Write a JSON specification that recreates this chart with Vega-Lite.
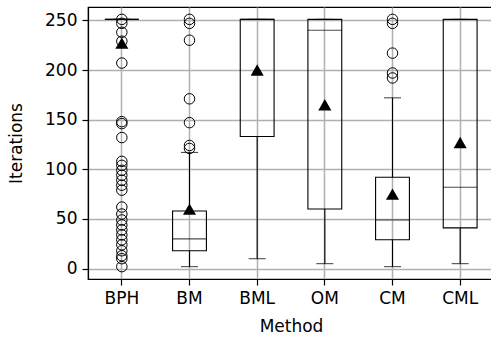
{
  "$schema": "https://vega.github.io/schema/vega-lite/v6.json",
  "width": 404,
  "height": 272,
  "autosize": "none",
  "padding": {"left": 88, "top": 7, "right": 0, "bottom": 64},
  "background": "white",
  "config": {
    "view": {"stroke": "black", "strokeWidth": 1.2},
    "font": "DejaVu Sans",
    "axis": {
      "labelFont": "DejaVu Sans",
      "titleFont": "DejaVu Sans",
      "labelFontSize": 17,
      "titleFontSize": 17,
      "titleFontWeight": "normal",
      "labelColor": "black",
      "titleColor": "black",
      "gridColor": "#b0b0b0",
      "gridWidth": 1.5,
      "gridOpacity": 1,
      "tickColor": "black",
      "tickSize": 6,
      "tickWidth": 1.2,
      "domainColor": "black",
      "domainWidth": 1.2
    }
  },
  "datasets": {
    "stats": [
      {"method": "BPH", "lower": 251, "q1": 251, "median": 251, "q3": 251, "upper": 251, "mean": 227},
      {"method": "BM", "lower": 2, "q1": 18, "median": 30, "q3": 58, "upper": 117, "mean": 60},
      {"method": "BML", "lower": 10, "q1": 133, "median": 251, "q3": 251, "upper": 251, "mean": 200},
      {"method": "OM", "lower": 5, "q1": 60, "median": 240, "q3": 251, "upper": 251, "mean": 165},
      {"method": "CM", "lower": 2, "q1": 29, "median": 49, "q3": 92, "upper": 172, "mean": 75},
      {"method": "CML", "lower": 5, "q1": 41, "median": 82, "q3": 251, "upper": 251, "mean": 127}
    ],
    "fliers": [
      {"method": "BPH", "value": 251}, {"method": "BPH", "value": 247}, {"method": "BPH", "value": 238},
      {"method": "BPH", "value": 229}, {"method": "BPH", "value": 207}, {"method": "BPH", "value": 148},
      {"method": "BPH", "value": 146}, {"method": "BPH", "value": 132}, {"method": "BPH", "value": 108},
      {"method": "BPH", "value": 104}, {"method": "BPH", "value": 99}, {"method": "BPH", "value": 94},
      {"method": "BPH", "value": 89}, {"method": "BPH", "value": 84}, {"method": "BPH", "value": 79},
      {"method": "BPH", "value": 62}, {"method": "BPH", "value": 55}, {"method": "BPH", "value": 49},
      {"method": "BPH", "value": 44}, {"method": "BPH", "value": 39}, {"method": "BPH", "value": 34},
      {"method": "BPH", "value": 29}, {"method": "BPH", "value": 24}, {"method": "BPH", "value": 18},
      {"method": "BPH", "value": 13}, {"method": "BPH", "value": 10}, {"method": "BPH", "value": 2},
      {"method": "BM", "value": 251}, {"method": "BM", "value": 247}, {"method": "BM", "value": 230},
      {"method": "BM", "value": 171}, {"method": "BM", "value": 147}, {"method": "BM", "value": 124},
      {"method": "BM", "value": 121},
      {"method": "CM", "value": 251}, {"method": "CM", "value": 247}, {"method": "CM", "value": 217},
      {"method": "CM", "value": 197}, {"method": "CM", "value": 192}
    ]
  },
  "encoding": {
    "x": {
      "field": "method",
      "type": "nominal",
      "sort": ["BPH", "BM", "BML", "OM", "CM", "CML"],
      "scale": {"type": "band", "paddingInner": 0, "paddingOuter": 0, "range": [0, 406]},
      "axis": {"title": "Method", "labelAngle": 0, "labelPadding": 5, "titlePadding": 12, "grid": true}
    }
  },
  "layer": [
    {
      "data": {"name": "stats"},
      "mark": {"type": "rule", "color": "black", "strokeWidth": 1.1},
      "encoding": {
        "y": {"field": "lower", "type": "quantitative", "scale": {"domain": [-10.45, 263.45], "nice": false, "zero": false},
          "axis": {"title": "Iterations", "values": [0, 50, 100, 150, 200, 250], "labelPadding": 5, "titlePadding": 19}},
        "y2": {"field": "q1"}
      }
    },
    {
      "data": {"name": "stats"},
      "mark": {"type": "rule", "color": "black", "strokeWidth": 1.1},
      "encoding": {
        "y": {"field": "q3", "type": "quantitative"},
        "y2": {"field": "upper"}
      }
    },
    {
      "data": {"name": "stats"},
      "mark": {"type": "bar", "fill": null, "fillOpacity": 0, "stroke": "black", "strokeWidth": 1.1, "width": {"band": 0.5}},
      "encoding": {
        "y": {"field": "q1", "type": "quantitative"},
        "y2": {"field": "q3"}
      }
    },
    {
      "data": {"name": "stats"},
      "mark": {"type": "tick", "color": "black", "size": 34, "thickness": 1.1},
      "encoding": {"y": {"field": "median", "type": "quantitative"}}
    },
    {
      "data": {"name": "stats"},
      "mark": {"type": "tick", "color": "black", "size": 17, "thickness": 1.1},
      "encoding": {"y": {"field": "lower", "type": "quantitative"}}
    },
    {
      "data": {"name": "stats"},
      "mark": {"type": "tick", "color": "black", "size": 17, "thickness": 1.1},
      "encoding": {"y": {"field": "upper", "type": "quantitative"}}
    },
    {
      "data": {"name": "fliers"},
      "mark": {"type": "point", "shape": "circle", "filled": false, "stroke": "black", "strokeWidth": 1, "size": 110, "opacity": 1},
      "encoding": {"y": {"field": "value", "type": "quantitative"}}
    },
    {
      "data": {"name": "stats"},
      "mark": {"type": "point", "shape": "triangle-up", "filled": true, "color": "black", "size": 170, "opacity": 1},
      "encoding": {"y": {"field": "mean", "type": "quantitative"}}
    }
  ]
}
